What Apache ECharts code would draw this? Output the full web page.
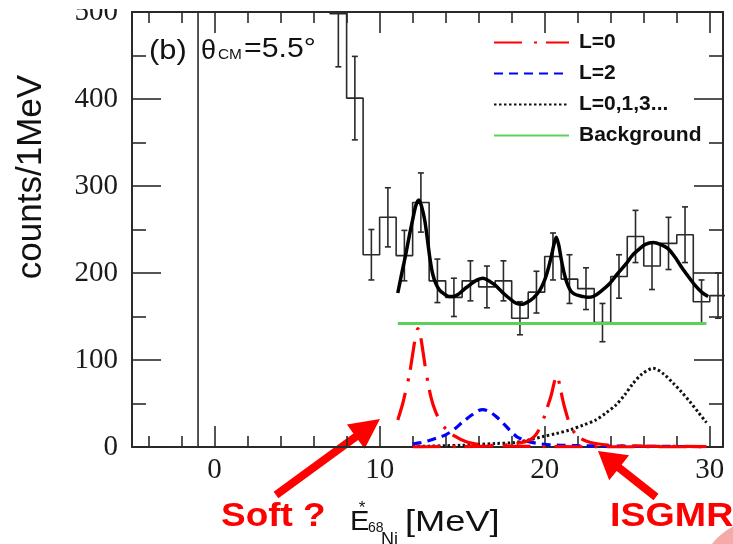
<!DOCTYPE html>
<html>
<head>
<meta charset="utf-8">
<script src="https://cdn.jsdelivr.net/npm/echarts@6/dist/echarts.min.js"></script>
<style>
html, body { margin: 0; padding: 0; background: #fff; }
#chart { width: 733px; height: 544px; }
</style>
</head>
<body>
<div id="chart"></div>
<script>
// Excitation-energy spectrum of 68Ni at theta_CM = 5.5 deg, 1 MeV bins starting at -5 MeV
const binStart = -5;
const binWidth = 1;
const counts = [0, 0, 0, 0,
  2350, 1900, 1450, 1100, 880, 760, 690, 620,
  498, 401, 221, 264, 220, 281, 191, 172, 191, 184, 191, 148,
  178, 219, 193, 182, 143, 196, 242, 208, 234, 244, 167, 174];
const countErrors = [0, 0, 0, 0,
  50, 45, 40, 35, 31, 29, 28, 26,
  61, 48, 29, 34, 29, 34, 25, 22, 23, 24, 23, 19,
  24, 27, 28, 24, 22, 25, 30, 27, 30, 32, 25, 26];

// Total fit
const fitEnergy = [11.1, 11.4, 11.6, 11.8, 12.0, 12.2, 12.38, 12.55, 12.73, 12.9, 13.03, 13.2, 13.4, 13.64, 13.9,
  14.2, 14.45, 14.8, 15.1, 15.45, 15.8, 16.26, 16.7, 17.0, 17.27, 17.6, 17.98, 18.3, 18.6, 18.9, 19.3, 19.7,
  20.0, 20.2, 20.4, 20.55, 20.7, 20.85, 21.0, 21.2, 21.4, 21.6, 21.9, 22.3, 22.6, 22.93, 23.4, 23.94, 24.4,
  24.95, 25.3, 25.76, 26.1, 26.57, 27.0, 27.47, 27.9, 28.28, 28.7, 29.1, 29.5, 29.9];
const fitTotal = [177, 205, 223, 243, 261, 278, 284, 276, 261, 238, 219, 200, 188, 180, 176,
  173, 173, 176, 181, 186, 191, 194, 190, 186, 181, 175, 169, 165, 164, 166, 171, 180,
  192, 204, 219, 232, 241, 232, 216, 198, 186, 179, 175, 173, 172, 173, 179, 188, 199,
  211, 220, 228, 233, 235, 233, 228, 218, 207, 196, 186, 178, 173];

// L=0, soft component
const softEnergy = [11.1, 11.4, 11.6, 11.8, 11.98, 12.15, 12.32, 12.45, 12.6, 12.8, 13.1, 13.4, 13.7, 14.0, 14.5,
  15.25, 16.0, 17.0, 18.0, 20.0, 22.0, 25.0, 29.8];
const softL0 = [31, 50, 66, 83, 104, 124, 136, 130, 113, 88, 58, 40, 29, 21, 13,
  6, 3, 1.5, 1, 0.5, 0.3, 0.2, 0.1];

// L=0, giant monopole component
const gmrEnergy = [12.0, 13.0, 15.0, 16.5, 17.5, 18.3, 19.1, 19.5, 19.9, 20.2, 20.4, 20.6, 20.73, 20.9, 21.05,
  21.2, 21.5, 21.75, 22.0, 22.5, 23.1, 24.0, 26.0, 29.8];
const gmrL0 = [0.2, 0.3, 0.5, 1, 2, 4, 8, 15, 31, 48, 60, 76, 83, 72, 58,
  46, 27, 18, 12, 7, 4, 2, 1, 0.5];

// L=2 component
const l2Energy = [12.0, 12.5, 13.0, 13.5, 14.0, 14.5, 15.05, 15.6, 16.0, 16.26, 16.6, 17.0, 17.5, 17.9, 18.3,
  18.8, 19.3, 19.8, 20.3, 21.0, 22.0, 24.0, 26.0, 28.0, 29.8];
const l2Values = [3.4, 5, 7.5, 10.5, 14, 20, 29, 37, 42, 43, 41, 36, 27, 19, 12,
  7.5, 5, 3.5, 2.5, 2, 1.5, 1, 0.8, 0.6, 0.5];

// L=0,1,3... component
const l013Energy = [12.0, 13.0, 14.0, 15.0, 16.0, 17.0, 18.1, 19.0, 19.9, 20.7, 21.5, 22.3, 23.1, 23.7, 24.3,
  24.85, 25.35, 25.9, 26.57, 27.2, 27.8, 28.3, 28.8, 29.3, 29.8];
const l013Values = [0.5, 1, 1.5, 2, 3, 4, 5, 8, 12, 15.5, 19.5, 25, 31, 39, 48,
  60, 73, 84, 90.5, 84, 73, 63, 52, 40, 28];

// Flat background
const bgEnergy = [11.1, 29.8];
const bgLevel = [142, 142];

const legendNames = ['L=0', 'L=2', 'L=0,1,3...', 'Background'];

const X_MIN = -5, X_MAX = 30.8, Y_MIN = 0, Y_MAX = 500;
const INK = '#2a2a2a';

const pair = (xs, ys) => xs.map((x, i) => [x, ys[i]]);

// Step outline of the histogram
const histPoints = [];
counts.forEach((c, i) => {
  const lo = binStart + i * binWidth;
  histPoints.push([lo, c], [lo + binWidth, c]);
});

// Error bars at bin centres
const errorData = counts.map((c, i) => [binStart + (i + 0.5) * binWidth, c - countErrors[i], c + countErrors[i]]);

function renderErrorBar(params, api) {
  const x = api.value(0), lo = api.value(1), hi = api.value(2);
  if (hi <= lo || lo >= Y_MAX) return null;
  const top = api.coord([x, Math.min(hi, Y_MAX)]);
  const bot = api.coord([x, Math.max(lo, Y_MIN)]);
  const st = { stroke: INK, lineWidth: 1.6 };
  const cap = 3;
  const children = [{ type: 'line', shape: { x1: top[0], y1: top[1], x2: bot[0], y2: bot[1] }, style: st }];
  if (hi <= Y_MAX) children.push({ type: 'line', shape: { x1: top[0] - cap, y1: top[1], x2: top[0] + cap, y2: top[1] }, style: st });
  if (lo >= Y_MIN) children.push({ type: 'line', shape: { x1: bot[0] - cap, y1: bot[1], x2: bot[0] + cap, y2: bot[1] }, style: st });
  return { type: 'group', children };
}

function arrowPoints(tail, tip, shaftW, headLen, headHalf) {
  const dx = tip[0] - tail[0], dy = tip[1] - tail[1];
  const len = Math.hypot(dx, dy);
  const ux = dx / len, uy = dy / len, nx = -uy, ny = ux;
  const bx = tip[0] - ux * headLen, by = tip[1] - uy * headLen;
  const h = shaftW / 2;
  return [
    [tail[0] + nx * h, tail[1] + ny * h],
    [bx + nx * h, by + ny * h],
    [bx + nx * headHalf, by + ny * headHalf],
    tip,
    [bx - nx * headHalf, by - ny * headHalf],
    [bx - nx * h, by - ny * h],
    [tail[0] - nx * h, tail[1] - ny * h]
  ];
}

const tickStyle = { color: INK, width: 1.6 };
function xAxisDef(pos, showLabels) {
  return {
    type: 'value', min: X_MIN, max: X_MAX, splitNumber: 4, position: pos,
    axisLine: { show: true, onZero: false, lineStyle: { color: INK, width: 2 } },
    axisTick: { show: true, inside: true, length: 21, lineStyle: tickStyle },
    minorTick: { show: true, splitNumber: 5, length: 11, lineStyle: tickStyle },
    axisLabel: {
      show: showLabels, margin: 9, fontFamily: 'Liberation Serif', fontSize: 29, color: '#1a1a1a',
      showMinLabel: false, showMaxLabel: false
    },
    splitLine: { show: false }
  };
}
function yAxisDef(pos, showLabels) {
  return {
    type: 'value', min: Y_MIN, max: Y_MAX, interval: 100, position: pos,
    axisLine: { show: true, onZero: false, lineStyle: { color: INK, width: 2 } },
    axisTick: { show: true, inside: true, length: 29, lineStyle: tickStyle },
    minorTick: { show: true, splitNumber: 2, length: 14, lineStyle: tickStyle },
    axisLabel: { show: showLabels, margin: 14, fontFamily: 'Liberation Serif', fontSize: 29, color: '#1a1a1a' },
    splitLine: { show: false }
  };
}

const chart = echarts.init(document.getElementById('chart'), null, { renderer: 'canvas' });

const RED = '#ff0000', BLUE = '#0000ff', GREEN = '#5ad25a';
const redDash = [28, 12, 3, 9];

chart.setOption({
  animation: false,
  backgroundColor: '#fff',
  grid: { left: 132, right: 10, top: 12, bottom: 97, containLabel: false, outerBoundsMode: 'none' },
  xAxis: [xAxisDef('bottom', true), xAxisDef('top', false)],
  yAxis: [yAxisDef('left', true), yAxisDef('right', false)],
  legend: {
    data: legendNames,
    orient: 'vertical', left: 493, top: 32, padding: 0,
    itemWidth: 75, itemHeight: 2, itemGap: 10,
    selectedMode: false,
    itemStyle: { opacity: 0 },
    textStyle: { fontFamily: 'Liberation Sans', fontWeight: 'bold', fontSize: 21, color: '#111', padding: [0, 0, 0, 5] }
  },
  series: [
    {
      name: 'spectrum', type: 'line', data: histPoints, symbol: 'none', silent: true,
      lineStyle: { color: INK, width: 1.6 }, z: 2
    },
    {
      name: 'errors', type: 'custom', data: errorData, renderItem: renderErrorBar,
      encode: { x: 0, y: [1, 2] }, silent: true, clip: true, z: 2
    },
    {
      name: 'Background', type: 'line', data: pair(bgEnergy, bgLevel), symbol: 'none', silent: true,
      color: GREEN, lineStyle: { color: GREEN, width: 3 }, z: 3
    },
    {
      name: 'L=2', type: 'line', data: pair(l2Energy, l2Values), symbol: 'none', smooth: 0.3, silent: true,
      color: BLUE, lineStyle: { color: BLUE, width: 3.2, type: [9, 6] }, z: 4
    },
    {
      name: 'L=0', type: 'line', data: pair(softEnergy, softL0), symbol: 'none', smooth: 0.3, silent: true,
      color: RED, lineStyle: { color: RED, width: 3.2, type: redDash }, z: 5
    },
    {
      name: 'L=0', type: 'line', data: pair(gmrEnergy, gmrL0), symbol: 'none', smooth: 0.3, silent: true,
      color: RED, lineStyle: { color: RED, width: 3.2, type: redDash }, z: 5
    },
    {
      name: 'L=0,1,3...', type: 'line', data: pair(l013Energy, l013Values), symbol: 'none', smooth: 0.3, silent: true,
      color: '#111', lineStyle: { color: '#111', width: 3, type: [2.5, 2.5] }, z: 4
    },
    {
      name: 'fit', type: 'line', data: pair(fitEnergy, fitTotal), symbol: 'none', smooth: 0.3, silent: true,
      lineStyle: { color: '#000', width: 3.5 }, z: 6
    }
  ],
  graphic: {
    elements: [
      // top of the 500 label falls outside the figure
      { type: 'rect', shape: { x: 55, y: 0, width: 72, height: 9 }, style: { fill: '#fff' }, z: 100 },
      { type: 'text', x: 149, y: 51, scaleX: 1.1, style: { text: '(b)', font: '28px "Liberation Sans"', fill: '#111', align: 'left', verticalAlign: 'middle' } },
      { type: 'text', x: 201, y: 52, style: { text: 'θ', font: '27px "Liberation Sans"', fill: '#111', align: 'left', verticalAlign: 'middle' } },
      { type: 'text', x: 218, y: 55, scaleX: 1.1, style: { text: 'CM', font: '14px "Liberation Sans"', fill: '#111', align: 'left', verticalAlign: 'middle' } },
      { type: 'text', x: 244, y: 50, scaleX: 1.12, style: { text: '=5.5°', font: '27px "Liberation Sans"', fill: '#111', align: 'left', verticalAlign: 'middle' } },
      { type: 'text', x: 31, y: 177, rotation: Math.PI / 2, style: { text: 'counts/1MeV', font: '35px "Liberation Sans"', fill: '#111', align: 'center', verticalAlign: 'middle' } },
      { type: 'text', x: 350, y: 523, scaleX: 1.08, style: { text: 'E', font: '27px "Liberation Sans"', fill: '#111', align: 'left', verticalAlign: 'middle' } },
      { type: 'text', x: 362, y: 508, style: { text: '*', font: '17px "Liberation Sans"', fill: '#111', align: 'center', verticalAlign: 'middle' } },
      { type: 'text', x: 368, y: 528, style: { text: '68', font: '14px "Liberation Sans"', fill: '#111', align: 'left', verticalAlign: 'middle' } },
      { type: 'text', x: 381, y: 540, style: { text: 'Ni', font: '18px "Liberation Sans"', fill: '#111', align: 'left', verticalAlign: 'middle' } },
      { type: 'text', x: 405, y: 523, scaleX: 1.25, style: { text: '[MeV]', font: '29px "Liberation Sans"', fill: '#111', align: 'left', verticalAlign: 'middle' } },
      { type: 'circle', shape: { cx: 760, cy: 580, r: 60 }, style: { fill: '#f5aaaa' } },
      { type: 'polygon', shape: { points: arrowPoints([276, 495], [380, 419], 8, 30, 15) }, style: { fill: RED } },
      { type: 'polygon', shape: { points: arrowPoints([656, 497], [598, 451], 8, 27, 16) }, style: { fill: RED } },
      { type: 'text', x: 221, y: 517, scaleX: 1.12, style: { text: 'Soft ?', font: 'bold 33px "Liberation Sans"', fill: RED, align: 'left', verticalAlign: 'middle' } },
      { type: 'text', x: 610, y: 517, scaleX: 1.14, style: { text: 'ISGMR', font: 'bold 33px "Liberation Sans"', fill: RED, align: 'left', verticalAlign: 'middle' } }
    ]
  }
});
</script>
</body>
</html>
